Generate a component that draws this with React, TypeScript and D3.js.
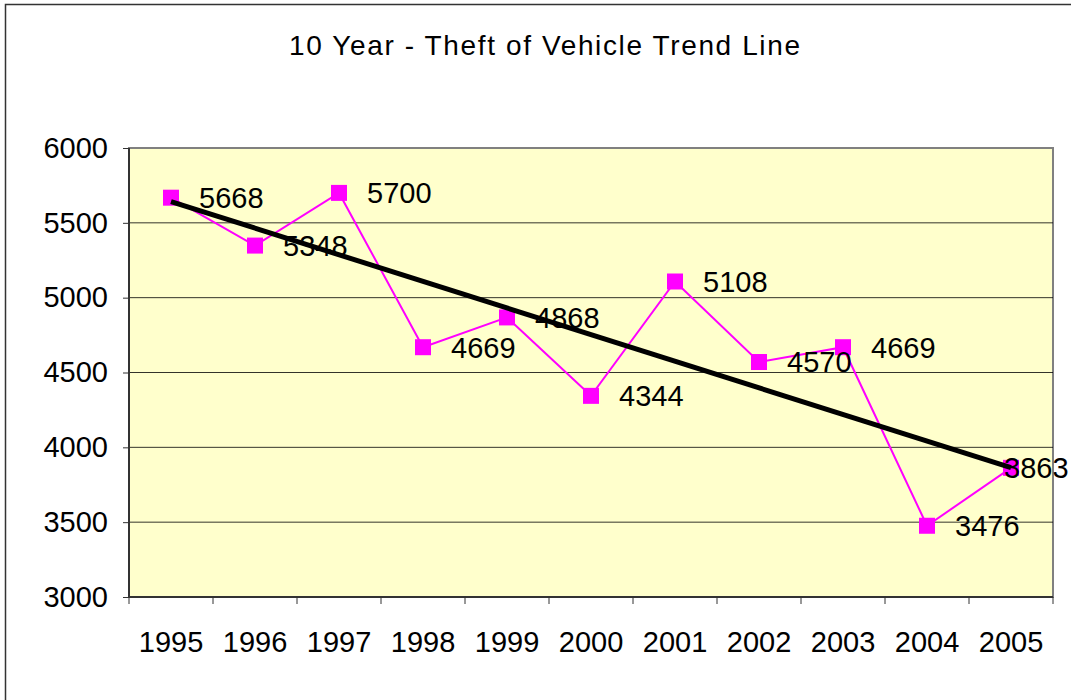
import React, { useEffect, useRef } from 'react';
import * as d3 from 'd3';

const years = ['1995', '1996', '1997', '1998', '1999', '2000', '2001', '2002', '2003', '2004', '2005'];
const thefts = [5668, 5348, 5700, 4669, 4868, 4344, 5108, 4570, 4669, 3476, 3863];
const yTicks = [3000, 3500, 4000, 4500, 5000, 5500, 6000];

const App = () => {
  const svgRef = useRef<SVGSVGElement>(null);

  useEffect(() => {
    const svg = d3.select(svgRef.current);
    svg.selectAll('*').remove();

    const width = 1071;
    const height = 700;
    const left = 129, right = 1053, top = 148, bottom = 597;
    const font = 'Arial, "Liberation Sans", sans-serif';

    // outer chart border
    svg.append('rect')
      .attr('x', 5.5).attr('y', 4.5)
      .attr('width', width + 20).attr('height', height + 20)
      .attr('fill', '#fff').attr('stroke', '#333').attr('stroke-width', 1.5);

    svg.append('text')
      .attr('x', 289).attr('y', 55)
      .attr('textLength', 511).attr('lengthAdjust', 'spacing')
      .attr('font-family', font).attr('font-size', 28)
      .attr('fill', '#000')
      .text('10 Year - Theft of Vehicle Trend Line');

    const x = d3.scaleBand().domain(years).range([left, right]);
    const y = d3.scaleLinear().domain([3000, 6000]).range([bottom, top]);
    const cx = (d: string) => (x(d) as number) + x.bandwidth() / 2;

    // plot area
    svg.append('rect')
      .attr('x', left).attr('y', top)
      .attr('width', right - left).attr('height', bottom - top)
      .attr('fill', '#FFFFCC').attr('stroke', '#808080').attr('stroke-width', 2);

    // gridlines
    svg.append('g').selectAll('line')
      .data(yTicks.slice(1, -1))
      .join('line')
      .attr('x1', left).attr('x2', right)
      .attr('y1', d => y(d)).attr('y2', d => y(d))
      .attr('stroke', '#000').attr('stroke-width', 0.8);

    // axes
    const yAxis = svg.append('g')
      .attr('transform', `translate(${left},0)`)
      .call(d3.axisLeft(y).tickValues(yTicks).tickSize(6).tickPadding(15).tickFormat(d3.format('d')));
    const xAxis = svg.append('g')
      .attr('transform', `translate(0,${bottom})`)
      .call(d3.axisBottom(x).tickSize(0).tickPadding(34));
    xAxis.selectAll('.tick').filter((d, i) => i > 0).append('line')
      .attr('x1', -x.bandwidth() / 2).attr('x2', -x.bandwidth() / 2)
      .attr('y1', 0).attr('y2', 7).attr('stroke', '#333');
    xAxis.append('line')
      .attr('x1', left).attr('x2', left).attr('y1', 0).attr('y2', 7).attr('stroke', '#333');
    xAxis.append('line')
      .attr('x1', right).attr('x2', right).attr('y1', 0).attr('y2', 7).attr('stroke', '#333');
    [yAxis, xAxis].forEach(a => {
      a.select('.domain').attr('stroke', '#333').attr('stroke-width', 2);
      a.selectAll('.tick line').attr('stroke', '#333');
      a.selectAll('.tick text')
        .attr('font-family', font).attr('font-size', 29).attr('fill', '#000');
    });
    yAxis.select('.domain').attr('d', `M0,${top}V${bottom}`);
    xAxis.select('.domain').attr('d', `M${left},0H${right}`);

    // series line
    const line = d3.line<number>()
      .x((d, i) => cx(years[i]))
      .y(d => y(d));
    svg.append('path')
      .datum(thefts)
      .attr('d', line)
      .attr('fill', 'none')
      .attr('stroke', '#FF00FF')
      .attr('stroke-width', 2);

    // markers
    svg.append('g').selectAll('rect')
      .data(thefts)
      .join('rect')
      .attr('x', (d, i) => cx(years[i]) - 8)
      .attr('y', d => y(d) - 8)
      .attr('width', 16).attr('height', 16)
      .attr('fill', '#FF00FF');

    // linear trend line (least squares)
    const xs = thefts.map((_, i) => i);
    const mx = d3.mean(xs) as number;
    const my = d3.mean(thefts) as number;
    const slope = d3.sum(xs, (xi, i) => (xi - mx) * (thefts[i] - my)) / d3.sum(xs, xi => (xi - mx) ** 2);
    const intercept = my - slope * mx;
    svg.append('line')
      .attr('x1', cx(years[0])).attr('y1', y(intercept))
      .attr('x2', cx(years[years.length - 1])).attr('y2', y(intercept + slope * (years.length - 1)))
      .attr('stroke', '#000').attr('stroke-width', 5);

    // data labels (last one pushed left so it stays inside the chart)
    const last = thefts.length - 1;
    svg.append('g').selectAll('text')
      .data(thefts)
      .join('text')
      .attr('x', (d, i) => i === last ? width - 67 : cx(years[i]) + 28)
      .attr('y', d => y(d))
      .attr('dy', '0.36em')
      .attr('font-family', font).attr('font-size', 29)
      .attr('fill', '#000')
      .text(d => d);
  }, []);

  return (
    <svg ref={svgRef} width={1071} height={700}
      style={{ position: 'absolute', left: 0, top: 0, background: '#fff' }} />
  );
};

export default App;
